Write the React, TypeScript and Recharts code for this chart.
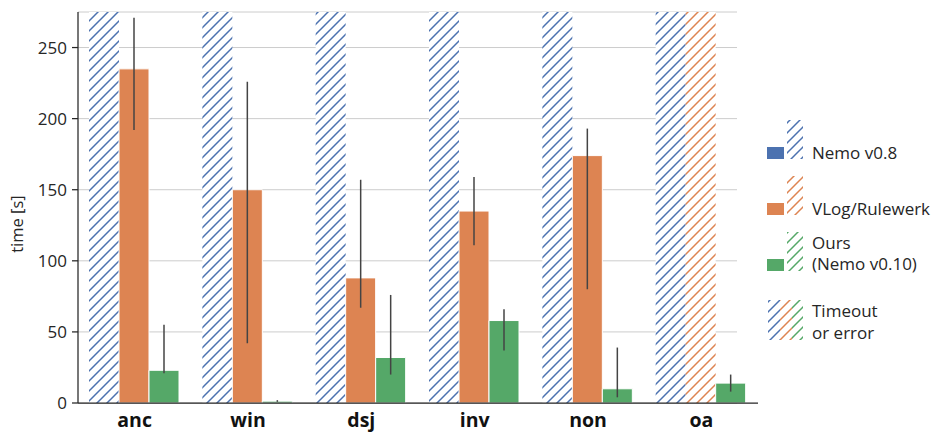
import { Bar, BarChart, CartesianGrid, Cell, ErrorBar, XAxis, YAxis } from "recharts";

const categories = ["anc", "win", "dsj", "inv", "non", "oa"];
const yTicks = [0, 50, 100, 150, 200, 250];
const TOP = 275;

// Nemo v0.8 timed out / errored everywhere
const nemoTimeout = [true, true, true, true, true, true];
const vlogTimeout = [false, false, false, false, false, true];

const vlogMean = [235, 150, 88, 135, 174, null];
const vlogLow = [192, 42, 67, 111, 80, null];
const vlogHigh = [271, 226, 157, 159, 193, null];

const oursMean = [23, 1.3, 32, 58, 10, 14];
const oursLow = [21, 0.8, 20, 37, 4, 8];
const oursHigh = [55, 2, 76, 66, 39, 20];

const BLUE = "#4c72b0";
const ORANGE = "#dd8452";
const GREEN = "#55a868";
const INK = "#262626";
const FONT = "'Open Sans', 'Noto Sans', sans-serif";

const data = categories.map((name, i) => ({
  name,
  nemo: nemoTimeout[i] ? TOP : null,
  vlog: vlogTimeout[i] ? TOP : vlogMean[i],
  vlogErr: vlogMean[i] == null ? undefined : [vlogMean[i]! - vlogLow[i]!, vlogHigh[i]! - vlogMean[i]!],
  ours: oursMean[i],
  oursErr: [oursMean[i] - oursLow[i], oursHigh[i] - oursMean[i]],
}));

function Hatch({ id, color }: { id: string; color: string }) {
  return (
    <pattern id={id} patternUnits="userSpaceOnUse" width={10} height={10}>
      <rect width={10} height={10} fill="#fff" />
      <path d="M-2.5,2.5 L2.5,-2.5 M0,10 L10,0 M7.5,12.5 L12.5,7.5" stroke={color} strokeWidth={1.5} />
    </pattern>
  );
}

function Legend() {
  const rows = [
    { label: ["Nemo v0.8"], color: BLUE, id: "lhB", top: 120, base: [159] },
    { label: ["VLog/Rulewerk"], color: ORANGE, id: "lhO", top: 176, base: [215] },
    { label: ["Ours", "(Nemo v0.10)"], color: GREEN, id: "lhG", top: 232, base: [249, 270] },
  ];
  return (
    <svg width={173} height={432} style={{ position: "absolute", left: 760, top: 0 }}>
      <defs>
        <Hatch id="lhB" color={BLUE} />
        <Hatch id="lhO" color={ORANGE} />
        <Hatch id="lhG" color={GREEN} />
      </defs>
      {rows.map((r) => (
        <g key={r.id}>
          <rect x={7} y={r.top + 27} width={17} height={12} fill={r.color} />
          <rect x={27} y={r.top} width={16} height={39} fill={`url(#${r.id})`} />
          {r.label.map((t, k) => (
            <text key={t} x={52} y={r.base[k]} fontSize={17} fill={INK} fontFamily={FONT}>
              {t}
            </text>
          ))}
        </g>
      ))}
      <rect x={8} y={300} width={12} height={40} fill="url(#lhB)" />
      <rect x={20} y={300} width={12} height={40} fill="url(#lhO)" />
      <rect x={32} y={300} width={11} height={40} fill="url(#lhG)" />
      <text x={52} y={317} fontSize={17} fill={INK} fontFamily={FONT}>Timeout</text>
      <text x={52} y={339} fontSize={17} fill={INK} fontFamily={FONT}>or error</text>
    </svg>
  );
}

function YTitle() {
  return (
    <svg width={34} height={432} style={{ position: "absolute", left: 0, top: 0 }}>
      <text
        x={16}
        y={224}
        transform="rotate(-90 16 224)"
        textAnchor="middle"
        dominantBaseline="central"
        fontSize={16.5}
        fill={INK}
        fontFamily={FONT}
      >
        time [s]
      </text>
    </svg>
  );
}

export default function App() {
  return (
    <div style={{ position: "fixed", left: 0, top: 0, width: 933, height: 432, background: "#fff", fontFamily: FONT }}>
      <BarChart
        width={933}
        height={432}
        data={data}
        margin={{ top: 12, right: 175, bottom: 0, left: 0 }}
        barCategoryGap={11}
        barGap={0}
      >
        <defs>
          <Hatch id="hB" color={BLUE} />
          <Hatch id="hO" color={ORANGE} />
        </defs>
        <CartesianGrid
          vertical={false}
          horizontal={(p: any) => (
            <line key={p.key} x1={p.x1} x2={p.x2 - 21} y1={p.y1} y2={p.y2} stroke="#cccccc" strokeWidth={1} />
          )}
        />
        <XAxis
          dataKey="name"
          height={29}
          tickLine={false}
          tickSize={0}
          tickMargin={10}
          axisLine={{ stroke: INK, strokeWidth: 1.25 }}
          tick={{ fontSize: 19.5, fontWeight: 700, fill: "#111", fontFamily: FONT }}
        />
        <YAxis
          width={78}
          domain={[0, TOP]}
          ticks={yTicks}
          allowDataOverflow
          tickSize={6}
          tickMargin={5}
          axisLine={{ stroke: INK, strokeWidth: 1.25 }}
          tickLine={{ stroke: INK, strokeWidth: 1.25 }}
          tick={{ fontSize: 17, fill: INK, fontFamily: FONT }}
        />
        <Bar dataKey="nemo" isAnimationActive={false} fill="url(#hB)" />
        <Bar dataKey="vlog" isAnimationActive={false} fill={ORANGE}>
          {data.map((d, i) => (
            <Cell key={d.name} fill={vlogTimeout[i] ? "url(#hO)" : ORANGE} stroke="#fff" strokeWidth={vlogTimeout[i] ? 0 : 1} />
          ))}
          <ErrorBar dataKey="vlogErr" width={0} stroke="#444" strokeWidth={1.5} />
        </Bar>
        <Bar dataKey="ours" isAnimationActive={false} fill={GREEN} stroke="#fff" strokeWidth={1}>
          <ErrorBar dataKey="oursErr" width={0} stroke="#444" strokeWidth={1.5} />
        </Bar>
      </BarChart>
      <YTitle />
      <Legend />
    </div>
  );
}
